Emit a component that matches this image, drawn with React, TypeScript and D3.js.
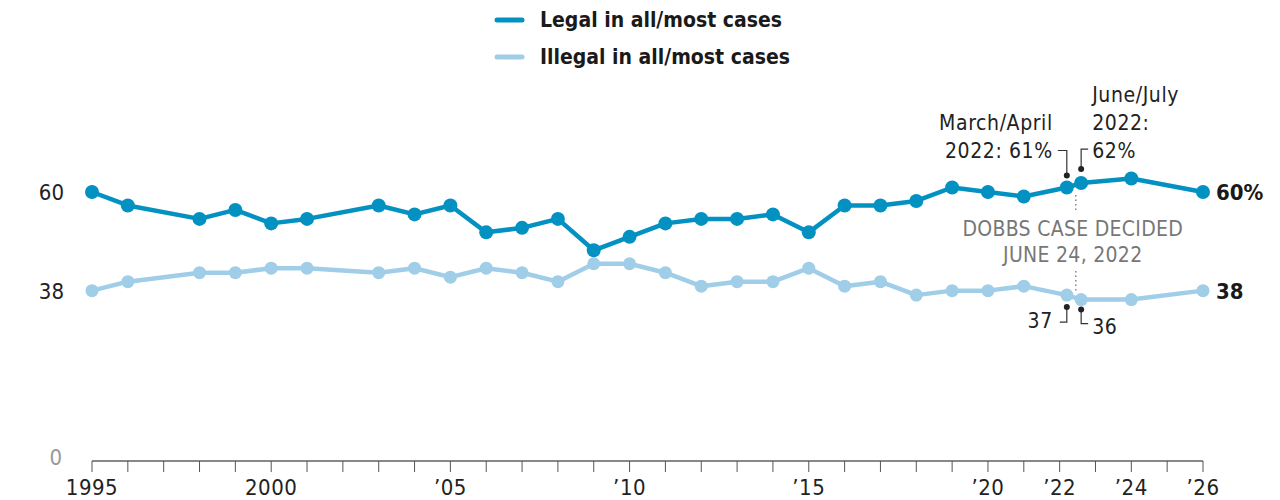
import * as d3 from 'd3';

// survey dates (fractional years for the two 2022 waves)
const years = [1995, 1996, 1998, 1999, 2000, 2001, 2003, 2004, 2005, 2006, 2007, 2008, 2009, 2010,
  2011, 2012, 2013, 2014, 2015, 2016, 2017, 2018, 2019, 2020, 2021, 2022.2, 2022.6, 2024, 2026];
const legal = [60, 57, 54, 56, 53, 54, 57, 55, 57, 51, 52, 54, 47, 50,
  53, 54, 54, 55, 51, 57, 57, 58, 61, 60, 59, 61, 62, 63, 60];
const illegal = [38, 40, 42, 42, 43, 43, 42, 43, 41, 43, 42, 40, 44, 44,
  42, 39, 40, 40, 43, 39, 40, 37, 38, 38, 39, 37, 36, 36, 38];

const tickYears = d3.range(1995, 2027);
const tickLabels: Record<number, string> = {
  1995: '1995', 2000: '2000', 2005: '\u201905', 2010: '\u201910', 2015: '\u201915',
  2020: '\u201920', 2022: '\u201922', 2024: '\u201924', 2026: '\u201926',
};
const yLabels = [0, 38, 60];
const dobbs = 2022.45;

const DARK = '#0391c2';
const LIGHT = '#a0cde7';
const FONT = '"Liberation Sans Narrow", "DejaVu Sans Condensed", "Roboto", sans-serif';

export default function App() {
  const x = d3.scaleLinear().domain([1995, 2026]).range([92, 1203]);
  const y = d3.scaleLinear().domain([0, 60]).range([461, 192]);

  const line = (vals: number[]) =>
    d3.line<number>().x((_d, i) => x(years[i])).y((d) => y(d))(vals) || '';

  const last = years.length - 1;
  const iMar = 25;
  const iJun = 26;
  const xm = x(years[iMar]);
  const xj = x(years[iJun]);
  const xd = x(dobbs);

  return (
    <svg width={1280} height={500} style={{ position: 'absolute', left: 0, top: 0, background: '#fff' }}
      fontFamily={FONT}>
      {/* legend */}
      <g fontWeight="bold" fontSize={21} fill="#1a1a1a">
        <line x1={497} x2={522} y1={20} y2={20} stroke={DARK} strokeWidth={5} strokeLinecap="round" />
        <text x={540} y={27}>Legal in all/most cases</text>
        <line x1={497} x2={522} y1={57} y2={57} stroke={LIGHT} strokeWidth={5} strokeLinecap="round" />
        <text x={540} y={64}>Illegal in all/most cases</text>
      </g>

      {/* y labels */}
      {yLabels.map((v) => (
        <text key={v} x={v === 0 ? 62 : 64} y={y(v) + (v === 0 ? 4 : 8)} textAnchor="end" fontSize={22}
          fill={v === 0 ? '#999' : '#222'}>{v}</text>
      ))}

      {/* x axis */}
      <line x1={x(1995)} x2={x(2026)} y1={y(0)} y2={y(0)} stroke="#888" strokeWidth={2} />
      {tickYears.map((t) => (
        <line key={t} x1={x(t)} x2={x(t)} y1={y(0)} y2={y(0) + 11} stroke="#555" strokeWidth={1} />
      ))}
      {tickYears.filter((t) => tickLabels[t]).map((t) => (
        <text key={t} x={x(t)} y={y(0) + 34} textAnchor="middle" fontSize={22} fill="#222"
          letterSpacing={0.5}>{tickLabels[t]}</text>
      ))}

      {/* dobbs marker */}
      <g stroke="#888" strokeWidth={1.5} strokeDasharray="1.5,3">
        <line x1={xd} x2={xd} y1={y(62) + 12} y2={y(62) + 30} />
        <line x1={xd} x2={xd} y1={y(37) - 24} y2={y(37) - 4} />
      </g>
      <g fontSize={21} fill="#777" textAnchor="middle" letterSpacing={0.3}>
        <text x={xd - 3} y={236}>DOBBS CASE DECIDED</text>
        <text x={xd - 3} y={262}>JUNE 24, 2022</text>
      </g>

      {/* series */}
      <path d={line(illegal)} fill="none" stroke={LIGHT} strokeWidth={4.5} strokeLinejoin="round" />
      {illegal.map((v, i) => <circle key={i} cx={x(years[i])} cy={y(v)} r={6.5} fill={LIGHT} />)}
      <path d={line(legal)} fill="none" stroke={DARK} strokeWidth={4.5} strokeLinejoin="round" />
      {legal.map((v, i) => <circle key={i} cx={x(years[i])} cy={y(v)} r={7} fill={DARK} />)}

      {/* end labels */}
      <g fontWeight="bold" fontSize={22} fill="#1a1a1a">
        <text x={x(years[last]) + 13} y={y(legal[last]) + 8}>{legal[last]}%</text>
        <text x={x(years[last]) + 13} y={y(illegal[last]) + 8}>{illegal[last]}</text>
      </g>

      {/* 2022 callouts */}
      <g stroke="#333" strokeWidth={1.2} fill="none">
        <polyline points={`${xm - 9},${y(61) - 37} ${xm},${y(61) - 37} ${xm},${y(61) - 12}`} />
        <polyline points={`${xj + 7},${y(62) - 34} ${xj},${y(62) - 34} ${xj},${y(62) - 14}`} />
        <polyline points={`${xm},${y(37) + 12} ${xm},${y(37) + 27} ${xm - 7},${y(37) + 27}`} />
        <polyline points={`${xj},${y(36) + 10} ${xj},${y(36) + 24} ${xj + 7},${y(36) + 24}`} />
      </g>
      <g fill="#222">
        <circle cx={xm} cy={y(61) - 12} r={3} />
        <circle cx={xj} cy={y(62) - 14} r={3} />
        <circle cx={xm} cy={y(37) + 12} r={3} />
        <circle cx={xj} cy={y(36) + 10} r={3} />
      </g>
      <g fontSize={21} fill="#222" letterSpacing={0.6}>
        <text x={xm - 14} y={y(61) - 58} textAnchor="end">March/April</text>
        <text x={xm - 14} y={y(61) - 30} textAnchor="end">2022: {legal[iMar]}%</text>
        <text x={xj + 11} y={y(62) - 81} >June/July</text>
        <text x={xj + 11} y={y(62) - 53}>2022:</text>
        <text x={xj + 11} y={y(62) - 25}>{legal[iJun]}%</text>
        <text x={xm - 14} y={y(37) + 33} textAnchor="end">{illegal[iMar]}</text>
        <text x={xj + 11} y={y(36) + 34}>{illegal[iJun]}</text>
      </g>
    </svg>
  );
}
